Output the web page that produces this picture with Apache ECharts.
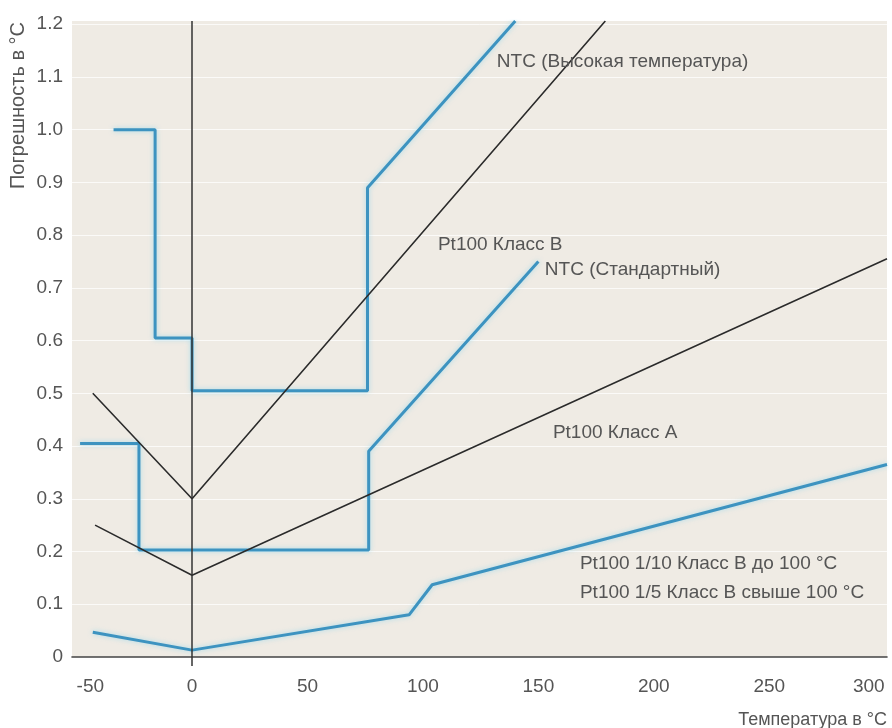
<!DOCTYPE html>
<html>
<head>
<meta charset="utf-8">
<script src="https://cdn.jsdelivr.net/npm/echarts@6/dist/echarts.min.js"></script>
<style>
html,body{margin:0;padding:0;background:#fff;}
#chart{width:892px;height:728px;}
</style>
</head>
<body>
<div id="chart"></div>
<script>
// ---- data ----
const xTicks = [-50, 0, 50, 100, 150, 200, 250, 300];
const yTicks = [0, 0.1, 0.2, 0.3, 0.4, 0.5, 0.6, 0.7, 0.8, 0.9, 1.0, 1.1, 1.2];

const ntcHighT = [-34, -16, -16, 0, 0, 76, 76, 140];
const ntcHighV = [1.0, 1.0, 0.605, 0.605, 0.505, 0.505, 0.89, 1.206];

const ntcStdT = [-48.5, -23, -23, 76.5, 76.5, 150];
const ntcStdV = [0.405, 0.405, 0.203, 0.203, 0.39, 0.75];

const pt100BT = [-43, 0, 179];
const pt100BV = [0.50, 0.30, 1.206];

const pt100AT = [-42, 0, 301];
const pt100AV = [0.25, 0.155, 0.755];

const pt100TenthT = [-43, 0, 94, 104, 301];
const pt100TenthV = [0.047, 0.013, 0.08, 0.137, 0.365];

const labelNtcHigh = 'NTC (Высокая температура)';
const labelPtB = 'Pt100 Класс B';
const labelNtcStd = 'NTC (Стандартный)';
const labelPtA = 'Pt100 Класс A';
const labelTenth1 = 'Pt100 1/10 Класс B до 100 °C';
const labelTenth2 = 'Pt100 1/5 Класс B свыше 100 °C';
const yName = 'Погрешность в °C';
const xName = 'Температура в °C';

// annotation anchors (data units)
const annT = [132, 106.5, 152.8, 156.3, 168, 168];
const annV = [1.128, 0.781, 0.734, 0.425, 0.176, 0.121];

function pairs(t, v) { return t.map((x, i) => [x, v[i]]); }

const FONT = '"Liberation Sans", Arial, sans-serif';
const TXT = '#555';
const BLUE = '#3d93c0';
const BLACK = '#2b2b2b';

function ann(i, text) {
  return {
    coord: [annT[i], annV[i]],
    symbol: 'circle',
    symbolSize: 0,
    label: {
      show: true, position: 'right', distance: 0, formatter: text,
      color: TXT, fontSize: 19, fontFamily: FONT, verticalAlign: 'middle'
    }
  };
}

const blueStyle = { color: BLUE, width: 3, shadowColor: 'rgba(110,205,240,0.55)', shadowBlur: 5 };
const blackStyle = { color: BLACK, width: 1.6 };

const chart = echarts.init(document.getElementById('chart'), null, { renderer: 'canvas' });
chart.setOption({
  animation: false,
  backgroundColor: '#ffffff',
  grid: {
    left: 72, right: 5, top: 21, bottom: 71,
    outerBoundsMode: 'none', containLabel: false,
    show: true, backgroundColor: '#efebe4', borderWidth: 0
  },
  xAxis: {
    type: 'value', min: -52, max: 301,
    axisLine: { show: true, onZero: false, lineStyle: { color: '#444', width: 1.6 } },
    axisTick: { show: true, customValues: [0], length: 9, lineStyle: { color: '#333', width: 1.5 } },
    axisLabel: { customValues: xTicks, margin: 20, color: TXT, fontSize: 19, fontFamily: FONT,
      alignMinLabel: 'left', alignMaxLabel: 'right' },
    splitLine: { show: false }
  },
  yAxis: {
    type: 'value', min: 0, max: 1.206,
    axisLine: { show: false },
    axisTick: { show: false, customValues: yTicks },
    axisLabel: {
      customValues: yTicks, margin: 9, color: TXT, fontSize: 19, fontFamily: FONT,
      formatter: v => (v === 0 ? '0' : v.toFixed(1))
    },
    splitLine: { show: true, lineStyle: { color: 'rgba(255,255,255,0.75)', width: 1 } }
  },
  graphic: [
    { type: 'text', x: 18, y: 22, rotation: Math.PI / 2,
      style: { text: yName, fill: TXT, font: '20px ' + FONT, align: 'right', verticalAlign: 'middle' } },
    { type: 'text', x: 887, y: 720,
      style: { text: xName, fill: TXT, font: '18px ' + FONT, align: 'right', verticalAlign: 'middle' } }
  ],
  series: [
    { name: labelNtcStd, type: 'line', data: pairs(ntcStdT, ntcStdV), symbol: 'none',
      lineStyle: blueStyle, markPoint: { silent: true, data: [ann(2, labelNtcStd)] } },
    { name: labelNtcHigh, type: 'line', data: pairs(ntcHighT, ntcHighV), symbol: 'none',
      lineStyle: blueStyle, markPoint: { silent: true, data: [ann(0, labelNtcHigh)] } },
    { name: labelTenth1, type: 'line', data: pairs(pt100TenthT, pt100TenthV), symbol: 'none',
      lineStyle: blueStyle, markPoint: { silent: true, data: [ann(4, labelTenth1), ann(5, labelTenth2)] } },
    { name: labelPtA, type: 'line', data: pairs(pt100AT, pt100AV), symbol: 'none',
      lineStyle: blackStyle, markPoint: { silent: true, data: [ann(3, labelPtA)] } },
    { name: labelPtB, type: 'line', data: pairs(pt100BT, pt100BV), symbol: 'none',
      lineStyle: blackStyle,
      markPoint: { silent: true, data: [ann(1, labelPtB)] },
      markLine: { silent: true, symbol: 'none', label: { show: false },
        lineStyle: { color: '#333', width: 1.5, type: 'solid' }, data: [{ xAxis: 0 }] } }
  ]
});
</script>
</body>
</html>
